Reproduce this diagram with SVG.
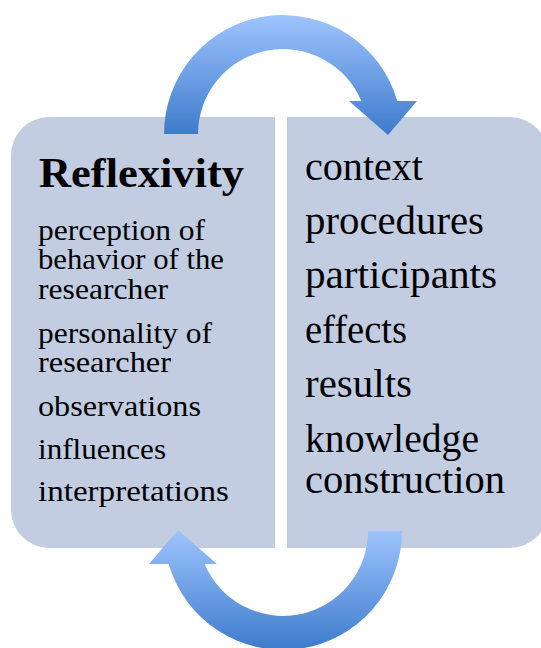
<svg xmlns="http://www.w3.org/2000/svg" width="541" height="648" viewBox="0 0 541 648">
  <defs>
    <linearGradient id="arrowFill" x1="0" y1="0" x2="0" y2="1">
      <stop offset="0" stop-color="#9ec4fd"/>
      <stop offset="1" stop-color="#3d7bcc"/>
    </linearGradient>
    <style>
      .panel { fill: #c2cde2; }
      .arrow { fill: url(#arrowFill); }
      text { font-family: "Liberation Serif", "Times New Roman", serif; fill: #000; }
      .title { font-size: 43px; font-weight: bold; }
      .item { font-size: 29px; }
      .topic { font-size: 40px; }
    </style>
  </defs>

  <rect width="541" height="648" fill="#ffffff"/>

  <!-- Left panel: reflexivity -->
  <g id="reflexivity">
    <path class="panel" d="M 49,117 H 275 V 548 H 49 A 38,38 0 0 1 11,510 V 155 A 38,38 0 0 1 49,117 Z"/>
    <text class="title" x="39" y="187" textLength="205" lengthAdjust="spacingAndGlyphs">Reflexivity</text>
    <text class="item" x="38" y="240" textLength="167" lengthAdjust="spacingAndGlyphs">perception of</text>
    <text class="item" x="38" y="269" textLength="186" lengthAdjust="spacingAndGlyphs">behavior of the</text>
    <text class="item" x="38" y="299" textLength="130" lengthAdjust="spacingAndGlyphs">researcher</text>
    <text class="item" x="38" y="343" textLength="174" lengthAdjust="spacingAndGlyphs">personality of</text>
    <text class="item" x="38" y="372" textLength="133" lengthAdjust="spacingAndGlyphs">researcher</text>
    <text class="item" x="38" y="416" textLength="163" lengthAdjust="spacingAndGlyphs">observations</text>
    <text class="item" x="38" y="459" textLength="128" lengthAdjust="spacingAndGlyphs">influences</text>
    <text class="item" x="38" y="501" textLength="191" lengthAdjust="spacingAndGlyphs">interpretations</text>
  </g>

  <!-- Right panel: research topics -->
  <g id="research">
    <path class="panel" d="M 287,117 H 510 A 38,38 0 0 1 548,155 V 510 A 38,38 0 0 1 510,548 H 287 Z"/>
    <text class="topic" x="305" y="180" textLength="118" lengthAdjust="spacingAndGlyphs">context</text>
    <text class="topic" x="305" y="234" textLength="179" lengthAdjust="spacingAndGlyphs">procedures</text>
    <text class="topic" x="305" y="288" textLength="192" lengthAdjust="spacingAndGlyphs">participants</text>
    <text class="topic" x="305" y="343" textLength="102" lengthAdjust="spacingAndGlyphs">effects</text>
    <text class="topic" x="305" y="397" textLength="107" lengthAdjust="spacingAndGlyphs">results</text>
    <text class="topic" x="305" y="452" textLength="174" lengthAdjust="spacingAndGlyphs">knowledge</text>
    <text class="topic" x="305" y="493" textLength="200" lengthAdjust="spacingAndGlyphs">construction</text>
  </g>

  <!-- Curved cycle arrows -->
  <g id="connectors">
    <path class="arrow" d="M 164,134 A 119,119 0 0 1 397.3,101 L 417,101 L 388,135 L 349,101 L 361.3,101 A 85,85 0 0 0 198,134 Z"/>
    <path class="arrow" d="M 402,531 A 119,119 0 0 1 168.7,564 L 149,564 L 178,530 L 217,564 L 204.7,564 A 85,85 0 0 0 368,531 Z"/>
  </g>
</svg>
